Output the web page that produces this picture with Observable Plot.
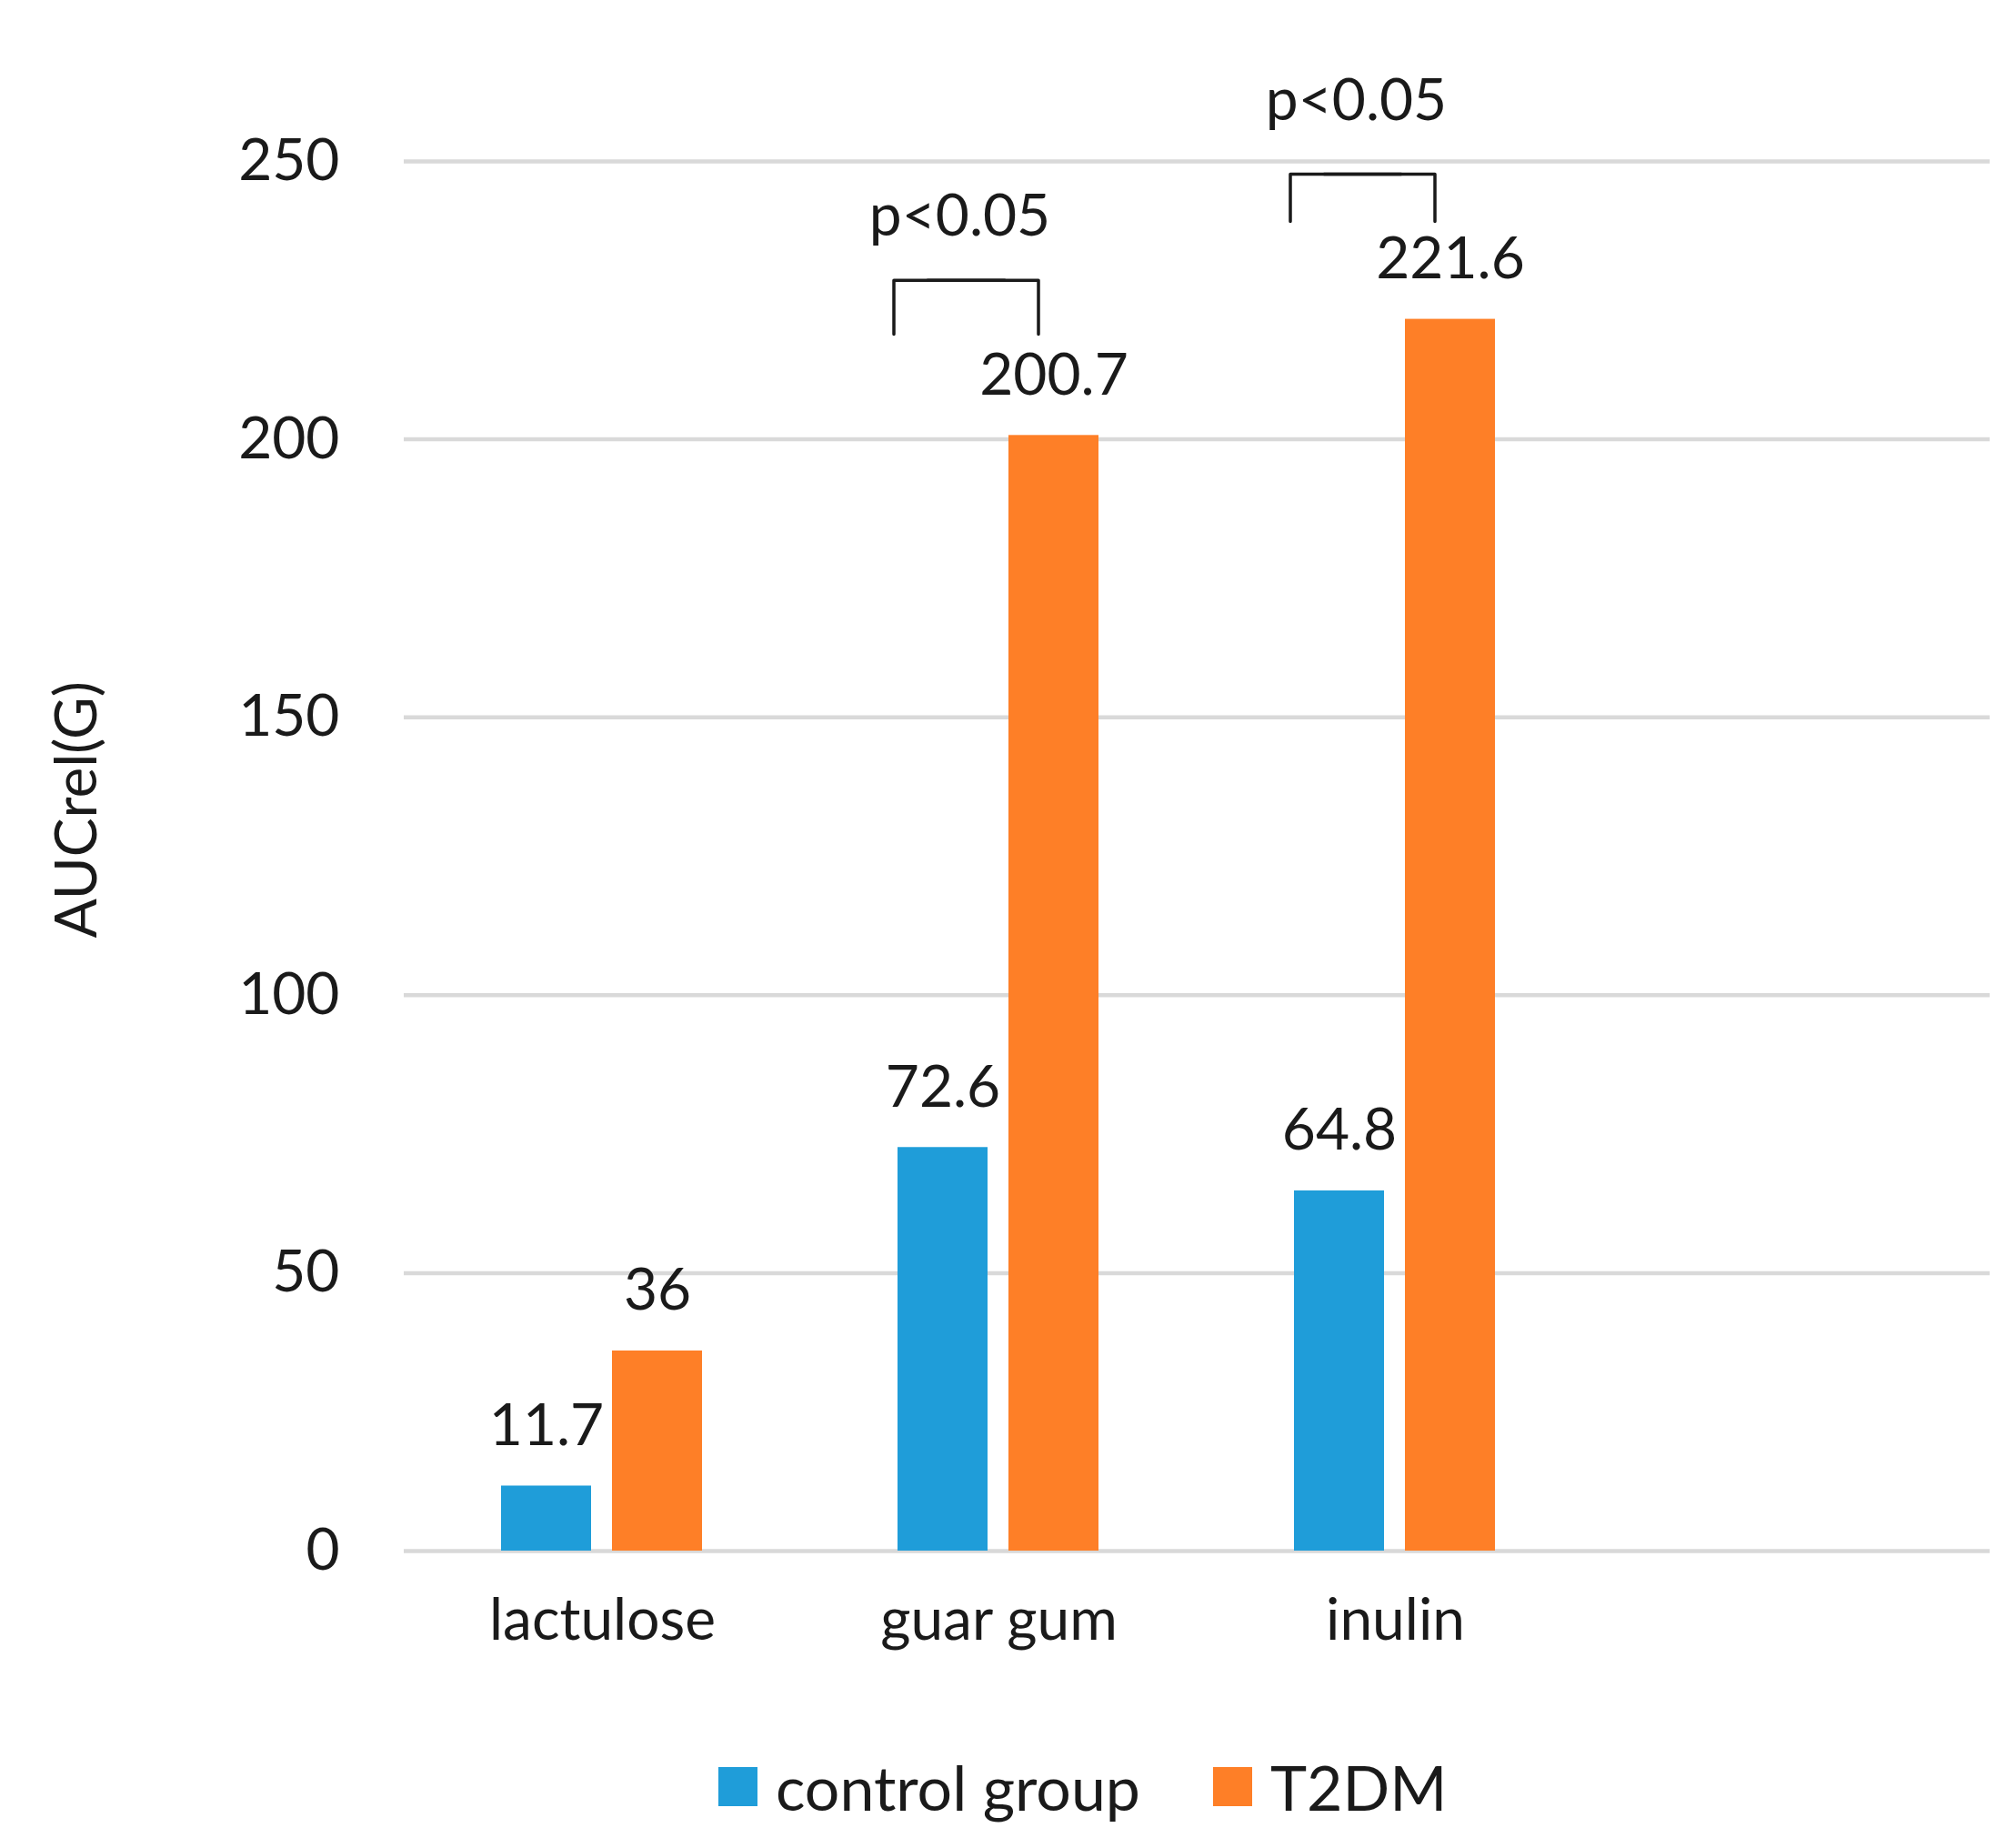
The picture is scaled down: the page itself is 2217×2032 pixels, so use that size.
<!DOCTYPE html>
<html>
<head>
<meta charset="utf-8">
<script src="https://cdn.jsdelivr.net/npm/d3@7"></script>
<script src="https://cdn.jsdelivr.net/npm/@observablehq/plot@0.6"></script>
<style>
  body { margin: 0; background: white; font-family: Lato, sans-serif; }
  #wrap { position: relative; width: 2217px; height: 2032px; }
  #legend { position: absolute; left: 790px; top: 1924px; height: 80px; display: flex; align-items: center; font-size: 68px; color: #1a1a1a; }
  .item { display: flex; align-items: center; margin-right: 80px; }
  .sw { width: 43px; height: 43px; margin-right: 20px; }
</style>
</head>
<body>
<div id="wrap"><div id="chart"></div><div id="legend"></div></div>
<script>
// values
const fibres = ["lactulose", "guar gum", "inulin"];
const categories = [...fibres, ""]; // excel left an empty fourth slot
const series = ["control group", "T2DM"];
const controlValues = [11.7, 72.6, 64.8];
const t2dmValues = [36, 200.7, 221.6];
const colors = ["#1f9dd9", "#fe7f27"];
const yTicks = [0, 50, 100, 150, 200, 250];
const yLabel = "AUCrel(G)";

// significance brackets
const pCategories = ["guar gum", "inulin"];
const pLabels = ["p<0.05", "p<0.05"];
const pLabelY = [236.7, 257.4];
const bracketTop = [228.6, 247.7];
const bracketBottom = [218.9, 239.2];

const bars = fibres.flatMap((c, i) => [
  {category: c, series: series[0], value: controlValues[i]},
  {category: c, series: series[1], value: t2dmValues[i]}
]);
const gridRows = categories.flatMap((c) => yTicks.map((t) => ({category: c, tick: t})));
const leftPath = pCategories.flatMap((c, i) => [
  {category: c, series: series[0], v: bracketBottom[i]},
  {category: c, series: series[0], v: bracketTop[i]},
  {category: c, series: series[1], v: bracketTop[i]}
]);
const rightPath = pCategories.flatMap((c, i) => [
  {category: c, series: series[0], v: bracketTop[i]},
  {category: c, series: series[1], v: bracketTop[i]},
  {category: c, series: series[1], v: bracketBottom[i]}
]);
const pRows = pCategories.map((c, i) => ({category: c, label: pLabels[i], v: pLabelY[i]}));

const ink = "#1a1a1a";

const chart = Plot.plot({
  width: 2217,
  height: 1880,
  marginTop: 177,
  marginBottom: 175,
  marginLeft: 443,
  marginRight: 29,
  style: {fontFamily: "Lato", fontSize: "64px", color: ink, background: "white"},
  fx: {domain: categories, padding: 0, label: null},
  x: {domain: series, paddingInner: 0.187, paddingOuter: 0.866, axis: null},
  y: {domain: [0, 250], axis: null},
  color: {domain: series, range: colors},
  marks: [
    Plot.ruleY(gridRows, {fx: "category", y: "tick", stroke: "#d9d9d9", strokeWidth: 4.5}),
    Plot.axisY({ticks: yTicks, tickSize: 0, tickPadding: 71, fontSize: 64, label: null}),
    Plot.axisFx({anchor: "bottom", tickSize: 0, tickPadding: 52, fontSize: 64, label: null}),
    Plot.barY(bars, {fx: "category", x: "series", y: "value", fill: "series"}),
    Plot.text(bars, {
      fx: "category", x: "series", y: "value",
      text: (d) => String(d.value),
      lineAnchor: "bottom", dy: -45, fontSize: 64, fill: ink
    }),
    Plot.line(leftPath, {fx: "category", x: "series", y: "v", z: "category", stroke: ink, strokeWidth: 3.5, dx: -54}),
    Plot.line(rightPath, {fx: "category", x: "series", y: "v", z: "category", stroke: ink, strokeWidth: 3.5, dx: -17}),
    Plot.text(pRows, {fx: "category", y: "v", text: "label", lineAnchor: "bottom", dx: -43, fontSize: 64, fill: ink}),
    Plot.text([yLabel], {
      fx: () => categories[0], text: (d) => d,
      frameAnchor: "left", rotate: -90, dx: -359, dy: 90, fontSize: 64, fill: ink
    })
  ]
});
d3.select("#chart").append(() => chart);

// legend under the svg
const legend = d3.select("#legend");
series.forEach((s, i) => {
  const item = legend.append("div").attr("class", "item");
  item.append("div").attr("class", "sw").style("background", colors[i]);
  item.append("span").text(s);
});
</script>
</body>
</html>
